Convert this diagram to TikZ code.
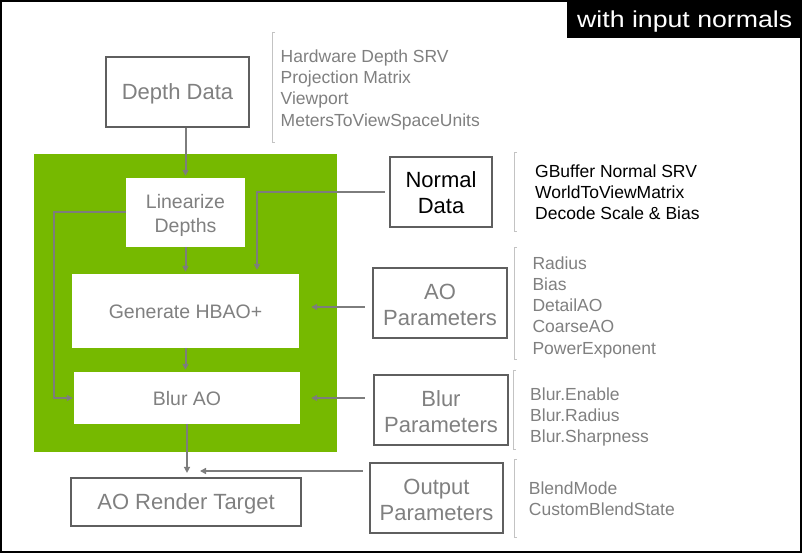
\documentclass[tikz,border=0pt]{standalone}
\usepackage{fontspec}
\setmainfont{Liberation Sans}
\usetikzlibrary{arrows.meta}
\definecolor{tgray}{RGB}{128,128,128}
\definecolor{bgray}{RGB}{95,95,95}
\definecolor{agray}{RGB}{125,125,125}
\definecolor{kgray}{RGB}{195,195,195}
\definecolor{nvgreen}{RGB}{118,185,0}
\begin{document}
\begin{tikzpicture}[x=1pt,y=-1pt,
 obox/.style={draw=bgray, line width=2.2pt, fill=white, inner sep=0pt, font=\fontsize{22}{26}\selectfont, text=tgray, align=center},
 ibox/.style={fill=white, inner sep=0pt, font=\fontsize{19.5}{24}\selectfont, text=tgray, align=center},
 oneline/.style={text height=15.8pt, text depth=0pt},
 twoline/.style={text height=#1, text depth=0pt},
 ioneline/.style={text height=14pt, text depth=0pt},
 arr/.style={draw=agray, line width=2pt, -{Triangle[length=6pt,width=6pt]}},
 brk/.style={draw=kgray, line width=1pt},
 lst/.style={anchor=base west, inner sep=0pt, font=\fontsize{17.5}{21}\selectfont, text=tgray},
]
\useasboundingbox (0,0) rectangle (802,553);
\fill[white] (0,0) rectangle (802,553);
\draw[line width=2pt] (1,1) rectangle (801,552);

% title
\node[fill=black, minimum width=235pt, minimum height=38pt, inner sep=0pt, anchor=north west,
      text=white, font=\fontsize{23}{23}\selectfont, text height=16.5pt, text depth=0pt] (title) at (567,0)
      {\scalebox{1.16}[1]{with input normals}};

% green panel
\fill[nvgreen] (34,154) rectangle (337,452);

% outer boxes
\node[obox, oneline, minimum width=143pt, minimum height=70pt] (depth) at (177.5,92) {Depth Data};
\node[obox, oneline, minimum width=230pt, minimum height=48pt] (rt) at (186,502) {AO Render Target};
\node[obox, twoline=43.8pt, text=black, minimum width=102pt, minimum height=70pt] (norm) at (441,192) {Normal\\Data};
\node[obox, twoline=45.8pt, minimum width=134pt, minimum height=70pt] (aop) at (440,303) {AO\\Parameters};
\node[obox, twoline=45.8pt, minimum width=134pt, minimum height=70pt] (blp) at (441,410) {Blur\\Parameters};
\node[obox, twoline=44pt, minimum width=133pt, minimum height=70pt] (outp) at (436.5,498) {Output\\Parameters};

% inner boxes
\node[ibox, twoline=41pt, minimum width=119pt, minimum height=69pt] (lin) at (185.5,212.5) {Linearize\\Depths};
\node[ibox, ioneline, minimum width=227pt, minimum height=74pt] (gen) at (185.5,311) {Generate HBAO+};
\node[ibox, ioneline, minimum width=226pt, minimum height=52pt] (blur) at (187,398) {Blur AO};

% connectors
\draw[arr, shorten >=2pt] (depth.south -| lin.north) -- (lin.north);
\draw[arr, shorten >=2pt] (lin.south) -- (lin.south |- gen.north);
\draw[arr, shorten >=2pt] (gen.south) -- (gen.south |- blur.north);
\draw[arr, shorten >=4pt] (blur.south) -- (blur.south |- rt.north);
\coordinate (lk) at (54,212.5);
\draw[arr, shorten >=1pt] (lin.west) -- (lk) |- (blur.west);
\coordinate (nk) at (257,192);
\draw[arr, shorten <=4pt, shorten >=4pt] (norm.west) -- (nk) -- (nk |- gen.north);
\coordinate (ak) at (0,307);
\draw[arr, shorten <=7pt, shorten >=12pt] (aop.west |- ak) -- (gen.east |- ak);
\draw[arr, shorten <=8pt, shorten >=11pt] (blp.west |- blur.east) -- (blur.east);
\coordinate (ok) at (0,471);
\draw[arr, shorten <=6pt, shorten >=13pt] (outp.west |- ok) -- (blur.south |- ok);

% brackets
\draw[brk] (275,33) -- (272,33) -- (272,143) -- (275,143);
\draw[brk] (517,153) -- (514,153) -- (514,231) -- (517,231);
\draw[brk] (517,247) -- (514,247) -- (514,359) -- (517,359);
\draw[brk] (516,370) -- (513,370) -- (513,449) -- (516,449);
\draw[brk] (517,459) -- (514,459) -- (514,537) -- (517,537);

% lists
\node[lst] (d1) at (280.5,62.3) {Hardware Depth SRV};
\node[lst] (d2) at (280.5,83.6) {Projection Matrix};
\node[lst] (d3) at (280.5,104.9) {Viewport};
\node[lst] (d4) at (280.5,126.2) {MetersToViewSpaceUnits};

\node[lst, text=black] (n1) at (535,177.3) {GBuffer Normal SRV};
\node[lst, text=black] (n2) at (535,198.3) {WorldToViewMatrix};
\node[lst, text=black] (n3) at (535,219.3) {Decode Scale \& Bias};

\node[lst] (a1) at (532.3,269) {Radius};
\node[lst] (a2) at (532.3,290.2) {Bias};
\node[lst] (a3) at (532.3,311.5) {DetailAO};
\node[lst] (a4) at (532.3,332.7) {CoarseAO};
\node[lst] (a5) at (532.3,354) {PowerExponent};

\node[lst] (b1) at (530,400) {Blur.Enable};
\node[lst] (b2) at (530,421) {Blur.Radius};
\node[lst] (b3) at (530,442) {Blur.Sharpness};

\node[lst] (o1) at (528.7,494.3) {BlendMode};
\node[lst] (o2) at (528.7,515) {CustomBlendState};
\end{tikzpicture}
\end{document}
